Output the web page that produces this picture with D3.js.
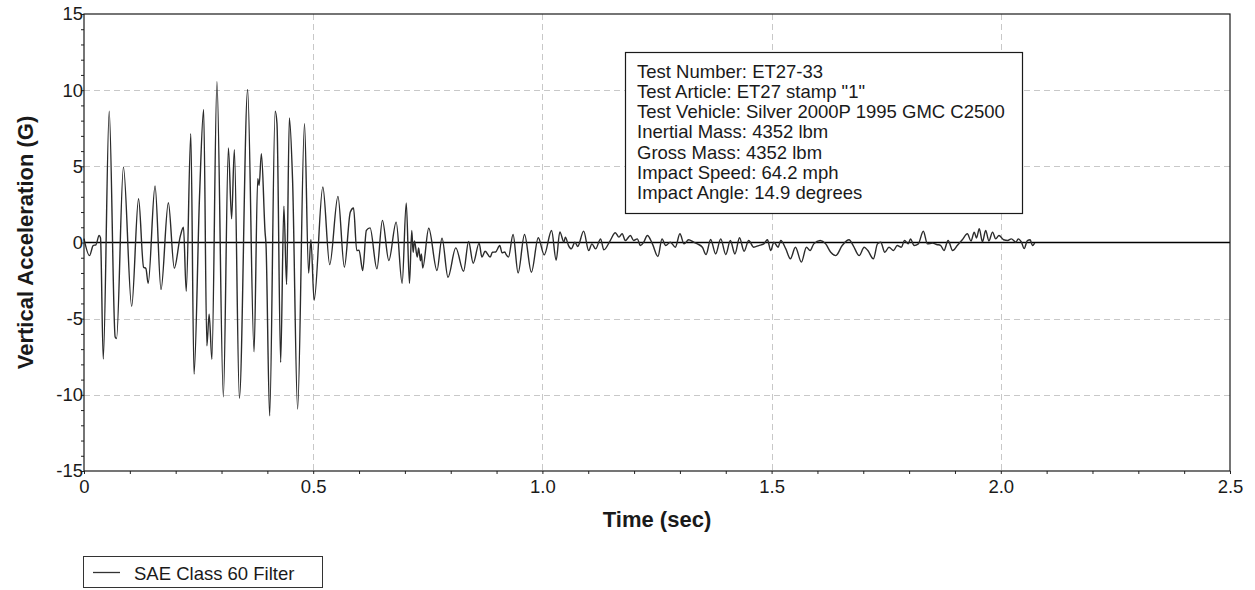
<!DOCTYPE html>
<html>
<head>
<meta charset="utf-8">
<script src="https://cdn.jsdelivr.net/npm/d3@7"></script>
<style>
  body { margin: 0; background: #fff; }
  svg text { font-family: "Liberation Sans", Arial, sans-serif; fill: #1a1a1a; }
</style>
</head>
<body>
<div id="chart"></div>
<script>
// time (sec) and vertical acceleration (G)
const times = [
  0.000, 0.012, 0.020, 0.026, 0.033, 0.036, 0.042, 0.055, 0.068, 0.071,
  0.086, 0.104, 0.119, 0.130, 0.135, 0.140, 0.155, 0.168, 0.184, 0.197,
  0.210, 0.217, 0.223, 0.233, 0.240, 0.252, 0.261, 0.268, 0.273, 0.279,
  0.290, 0.304, 0.315, 0.322, 0.328, 0.339, 0.357, 0.371, 0.379, 0.382,
  0.387, 0.395, 0.397, 0.405, 0.417, 0.421, 0.429, 0.436, 0.442, 0.448,
  0.455, 0.466, 0.481, 0.490, 0.495, 0.502, 0.521, 0.536, 0.554, 0.568,
  0.581, 0.588, 0.595, 0.600, 0.608, 0.616, 0.624, 0.639, 0.651, 0.665,
  0.681, 0.694, 0.703, 0.710, 0.715, 0.718, 0.721, 0.727, 0.730, 0.734,
  0.736, 0.739, 0.752, 0.770, 0.781, 0.794, 0.811, 0.828, 0.839, 0.849,
  0.862, 0.868, 0.875, 0.886, 0.891, 0.898, 0.907, 0.912, 0.918, 0.921,
  0.926, 0.936, 0.947, 0.961, 0.976, 0.991, 1.004, 1.020, 1.030, 1.038,
  1.047, 1.050, 1.057, 1.063, 1.071, 1.077, 1.090, 1.101, 1.108, 1.116,
  1.127, 1.134, 1.148, 1.159, 1.167, 1.174, 1.181, 1.192, 1.199, 1.207,
  1.214, 1.221, 1.229, 1.240, 1.252, 1.261, 1.269, 1.279, 1.290, 1.300,
  1.309, 1.319, 1.330, 1.338, 1.349, 1.357, 1.367, 1.378, 1.389, 1.400,
  1.410, 1.420, 1.430, 1.440, 1.450, 1.461, 1.472, 1.483, 1.491, 1.498,
  1.505, 1.514, 1.520, 1.531, 1.541, 1.552, 1.565, 1.576, 1.584, 1.592,
  1.606, 1.618, 1.629, 1.640, 1.654, 1.669, 1.678, 1.691, 1.702, 1.710,
  1.722, 1.731, 1.738, 1.747, 1.756, 1.766, 1.774, 1.783, 1.790, 1.798,
  1.803, 1.811, 1.820, 1.831, 1.840, 1.851, 1.860, 1.869, 1.876, 1.885,
  1.895, 1.905, 1.916, 1.927, 1.935, 1.942, 1.947, 1.953, 1.960, 1.967,
  1.974, 1.982, 1.989, 1.996, 2.006, 2.015, 2.023, 2.033, 2.038, 2.045,
  2.051, 2.058, 2.064, 2.069, 2.074
];
const accel = [
  0.26, -0.86, -0.20, -0.15, 0.46, 0.30, -7.65, 8.62, -6.20, -6.30,
  4.95, -4.19, 2.87, -1.62, -1.70, -2.68, 3.71, -3.09, 2.61, -1.69,
  0.40, 1.00, -3.20, 7.15, -8.64, 3.00, 8.73, -6.78, -4.70, -7.66,
  10.55, -10.13, 6.20, 1.56, 6.10, -10.22, 10.04, -7.17, 4.19, 3.75,
  5.83, 0.68, -0.10, -11.38, 8.62, 7.80, -7.87, 2.39, -2.76, 8.18,
  4.10, -10.94, 7.80, -2.00, 0.18, -3.80, 3.64, -1.45, 3.03, -1.62,
  2.00, 2.26, -0.53, -0.50, -1.84, 0.79, 0.96, -1.73, 1.45, -1.18,
  1.34, -2.68, 2.59, -2.68, 0.79, -0.64, 0.10, -0.96, -0.35, -1.20,
  -0.75, -1.67, 0.94, -1.84, 0.29, -2.28, -0.35, -1.89, 0.07, -1.36,
  -0.04, -0.96, -0.57, -0.96, -0.64, -0.62, -0.20, -0.68, -0.62, -0.80,
  -0.96, 0.53, -2.00, 0.53, -1.95, 0.31, -0.81, 0.79, -1.16, 0.70,
  0.02, 0.35, -0.20, -0.42, 0.02, -0.26, 0.75, -0.53, -0.09, -0.42,
  0.24, -0.48, 0.13, 0.64, 0.35, 0.57, 0.13, 0.46, 0.13, 0.24,
  -0.20, 0.02, 0.46, -0.09, -0.92, 0.24, -0.20, 0.02, -0.31, 0.57,
  -0.09, 0.18, 0.02, -0.09, -0.31, -0.79, 0.20, -0.75, 0.24, -0.79,
  0.13, -0.75, 0.31, -0.57, 0.13, -0.31, -0.20, -0.09, 0.18, -0.53,
  0.02, -0.31, 0.13, -0.42, -1.07, -0.31, -1.29, -0.31, -0.53, -0.09,
  0.13, -0.09, -0.64, -0.86, -0.20, 0.18, -0.20, -0.86, -0.31, -0.53,
  -1.07, -0.09, 0.02, -0.64, -0.31, -0.53, -0.20, -0.31, 0.13, -0.09,
  0.24, -0.20, -0.09, 0.74, -0.09, -0.04, -0.13, -0.20, -0.53, 0.13,
  -0.53, -0.20, 0.18, 0.57, 0.10, 0.68, 0.30, 0.90, 0.05, 0.79,
  0.10, 0.68, 0.24, 0.46, 0.18, 0.13, 0.24, 0.02, 0.24, 0.02,
  -0.40, 0.13, 0.18, -0.20, -0.04
];

const xTicks = [0, 0.5, 1.0, 1.5, 2.0, 2.5];
const xTickLabels = ["0", "0.5", "1.0", "1.5", "2.0", "2.5"];
const yTicks = [-15, -10, -5, 0, 5, 10, 15];
const yTickLabels = ["-15", "-10", "-5", "0", "5", "10", "15"];

const infoLines = [
  "Test Number: ET27-33",
  "Test Article: ET27 stamp \"1\"",
  "Test Vehicle: Silver 2000P 1995 GMC C2500",
  "Inertial Mass: 4352 lbm",
  "Gross Mass: 4352 lbm",
  "Impact Speed: 64.2 mph",
  "Impact Angle: 14.9 degrees"
];
const seriesName = "SAE Class 60 Filter";

const W = 1255, H = 590;
const plotL = 84, plotR = 1230, plotT = 14, plotB = 471;

const svg = d3.select("#chart").append("svg")
  .attr("width", W).attr("height", H);

svg.append("rect").attr("width", W).attr("height", H).attr("fill", "#fff");

const x = d3.scaleLinear().domain([0, 2.5]).range([plotL, plotR]);
const y = d3.scaleLinear().domain([-15, 15]).range([plotB, plotT]);

// dashed grid
const grid = svg.append("g").attr("stroke", "#c8c8c8").attr("stroke-dasharray", "6,4").attr("stroke-width", 1);
grid.selectAll("line.v")
  .data(xTicks.filter(d => d > 0 && d < 2.5))
  .enter().append("line")
    .attr("x1", d => Math.round(x(d)) + 0.5).attr("x2", d => Math.round(x(d)) + 0.5)
    .attr("y1", plotT).attr("y2", plotB);
grid.selectAll("line.h")
  .data(yTicks.filter(d => d !== 0 && Math.abs(d) < 15))
  .enter().append("line")
    .attr("y1", d => Math.round(y(d)) + 0.5).attr("y2", d => Math.round(y(d)) + 0.5)
    .attr("x1", plotL).attr("x2", plotR);

// minor ticks
svg.append("g")
  .attr("transform", "translate(0," + plotB + ")")
  .call(d3.axisBottom(x).tickValues(d3.range(0, 2.51, 0.1)).tickSize(3).tickFormat(""))
  .call(g => g.select(".domain").remove())
  .selectAll("line").attr("stroke", "#222");
svg.append("g")
  .attr("transform", "translate(" + plotL + ",0)")
  .call(d3.axisLeft(y).tickValues(d3.range(-15, 15.1, 1)).tickSize(3).tickFormat(""))
  .call(g => g.select(".domain").remove())
  .selectAll("line").attr("stroke", "#222");

// tick labels
const xAxis = svg.append("g")
  .attr("transform", "translate(0," + plotB + ")")
  .call(d3.axisBottom(x).tickValues(xTicks).tickSize(0).tickPadding(9)
    .tickFormat((d, i) => xTickLabels[i]));
xAxis.select(".domain").remove();
xAxis.selectAll("text").style("font-size", "18.5px").style("font-family", "Liberation Sans, Arial, sans-serif").attr("fill", "#1a1a1a");

const yAxis = svg.append("g")
  .attr("transform", "translate(" + plotL + ",0)")
  .call(d3.axisLeft(y).tickValues(yTicks).tickSize(0).tickPadding(1)
    .tickFormat((d, i) => yTickLabels[i]));
yAxis.select(".domain").remove();
yAxis.selectAll("text").style("font-size", "18.5px").style("font-family", "Liberation Sans, Arial, sans-serif").attr("fill", "#1a1a1a");

// zero line
svg.append("line")
  .attr("x1", plotL).attr("x2", plotR)
  .attr("y1", y(0)).attr("y2", y(0))
  .attr("stroke", "#000").attr("stroke-width", 1.3);

// trace
const data = times.map((t, i) => ({ t: t, v: accel[i] }));
svg.append("path")
  .datum(data)
  .attr("fill", "none")
  .attr("stroke", "#2b2b2b")
  .attr("stroke-width", 1.4)
  .attr("stroke-linejoin", "round")
  .attr("d", d3.line().curve(d3.curveMonotoneX).x(d => x(d.t)).y(d => y(d.v)));

// plot frame
svg.append("rect")
  .attr("x", plotL).attr("y", plotT)
  .attr("width", plotR - plotL).attr("height", plotB - plotT)
  .attr("fill", "none").attr("stroke", "#1a1a1a").attr("stroke-width", 1.2);

// info box
svg.append("rect")
  .attr("x", 625.5).attr("y", 52.5).attr("width", 397).attr("height", 161)
  .attr("fill", "#fff").attr("stroke", "#1a1a1a").attr("stroke-width", 1.2);
svg.append("g").selectAll("text")
  .data(infoLines)
  .enter().append("text")
    .attr("x", 637)
    .attr("y", (d, i) => 77.5 + i * 20.3)
    .style("font-size", "18.5px")
    .text(d => d);

// axis titles
svg.append("text")
  .attr("x", (plotL + plotR) / 2).attr("y", 527)
  .attr("text-anchor", "middle")
  .style("font-size", "22px").style("font-weight", "bold")
  .text("Time (sec)");
svg.append("text")
  .attr("transform", "translate(33," + ((plotT + plotB) / 2) + ") rotate(-90)")
  .attr("text-anchor", "middle")
  .style("font-size", "22px").style("font-weight", "bold")
  .text("Vertical Acceleration (G)");

// legend
svg.append("rect")
  .attr("x", 83.5).attr("y", 556.5).attr("width", 239).attr("height", 31)
  .attr("fill", "#fff").attr("stroke", "#333").attr("stroke-width", 1);
svg.append("line")
  .attr("x1", 93).attr("x2", 120).attr("y1", 572.5).attr("y2", 572.5)
  .attr("stroke", "#333").attr("stroke-width", 1.3);
svg.append("text")
  .attr("x", 134).attr("y", 579.5)
  .style("font-size", "18.5px")
  .text(seriesName);
</script>
</body>
</html>
